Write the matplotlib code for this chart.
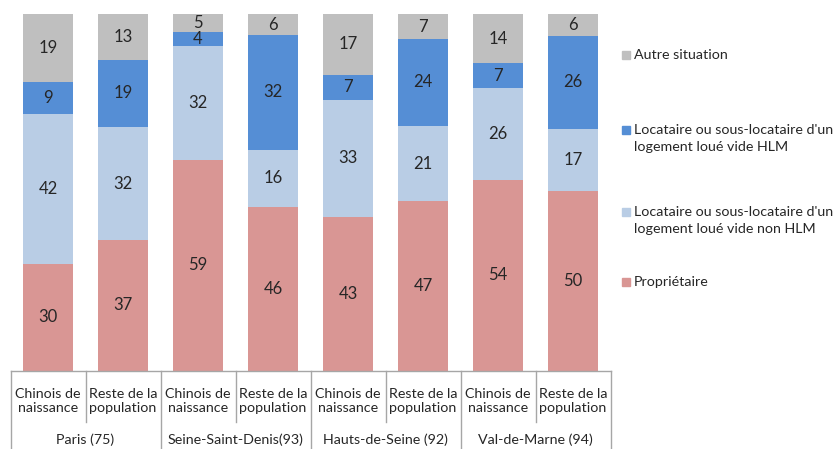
import matplotlib
matplotlib.use("Agg")
import matplotlib.pyplot as plt
from matplotlib.patches import Rectangle
import numpy as np

plt.rcParams['font.family'] = ['Lato', 'DejaVu Sans']

sub_labels = ["Chinois de\nnaissance", "Reste de la\npopulation"] * 4
groups = ["Paris (75)", "Seine-Saint-Denis(93)", "Hauts-de-Seine (92)", "Val-de-Marne (94)"]

series_names = ["Propriétaire",
                "Locataire ou sous-locataire d'un\nlogement loué vide non HLM",
                "Locataire ou sous-locataire d'un\nlogement loué vide HLM",
                "Autre situation"]
proprietaire = [30, 37, 59, 46, 43, 47, 54, 50]
non_hlm = [42, 32, 32, 16, 33, 21, 26, 17]
hlm = [9, 19, 4, 32, 7, 24, 7, 26]
autre = [19, 13, 5, 6, 17, 7, 14, 6]
colors = ["#D99694", "#B9CDE5", "#558ED5", "#BFBFBF"]

W, H = 838, 449
fig = plt.figure(figsize=(W / 100, H / 100), dpi=100)
ax_left, ax_right, ax_top, ax_bot = 10.5, 610.5, 14, 370.7
ax = fig.add_axes([ax_left / W, 1 - ax_bot / H, (ax_right - ax_left) / W, (ax_bot - ax_top) / H])

data = np.array([proprietaire, non_hlm, hlm, autre], dtype=float)
totals = data.sum(axis=0)
pct = data / totals * 100
x = np.arange(len(sub_labels))
bottom = np.zeros(len(x))
for vals, raw, col in zip(pct, data, colors):
    bars = ax.bar(x, vals, bottom=bottom, width=0.667, color=col, edgecolor='none')
    ax.bar_label(bars, labels=[f"{int(v)}" for v in raw], label_type='center',
                 fontsize=12, color='#262626')
    bottom += vals

ax.set_xlim(-0.5, len(x) - 0.5)
ax.set_ylim(0, 100)
ax.set_xticks([])
ax.set_yticks([])
for s in ['top', 'right', 'left']:
    ax.spines[s].set_visible(False)
ax.spines['bottom'].set_color('#A6A6A6')
ax.spines['bottom'].set_linewidth(1)

def yfrac(py):
    return (ax_bot - py) / (ax_bot - ax_top)

line_kw = dict(color='#A6A6A6', lw=1, clip_on=False, transform=ax.get_xaxis_transform())
for i in range(len(x) + 1):
    xx = i - 0.5
    if i % 2 == 0:
        ax.plot([xx, xx], [0, yfrac(449)], **line_kw)
    else:
        ax.plot([xx, xx], [0, yfrac(422)], **line_kw)

fs = 10.3
tr = ax.get_xaxis_transform()
for i, lab in enumerate(sub_labels):
    ax.text(i, yfrac(401), lab, ha='center', va='center', fontsize=fs,
            color='#262626', transform=tr, linespacing=1.2)
for g, lab in enumerate(groups):
    ax.text(2 * g + 0.5, yfrac(440), lab, ha='center', va='center', fontsize=fs,
            color='#262626', transform=tr)

# legend (top to bottom)
leg_y = [55, 130, 212, 282]
for name, col, yy in zip(series_names[::-1], colors[::-1], leg_y):
    fig.patches.append(Rectangle((622 / W, 1 - (yy + 4) / H), 8 / W, 8 / H,
                                 transform=fig.transFigure, color=col))
    for k, line in enumerate(name.split("\n")):
        fig.text(634 / W, 1 - (yy + k * 17) / H, line, ha='left', va='center',
                 fontsize=fs, color='#262626')

fig.savefig("out.png", dpi=100)
